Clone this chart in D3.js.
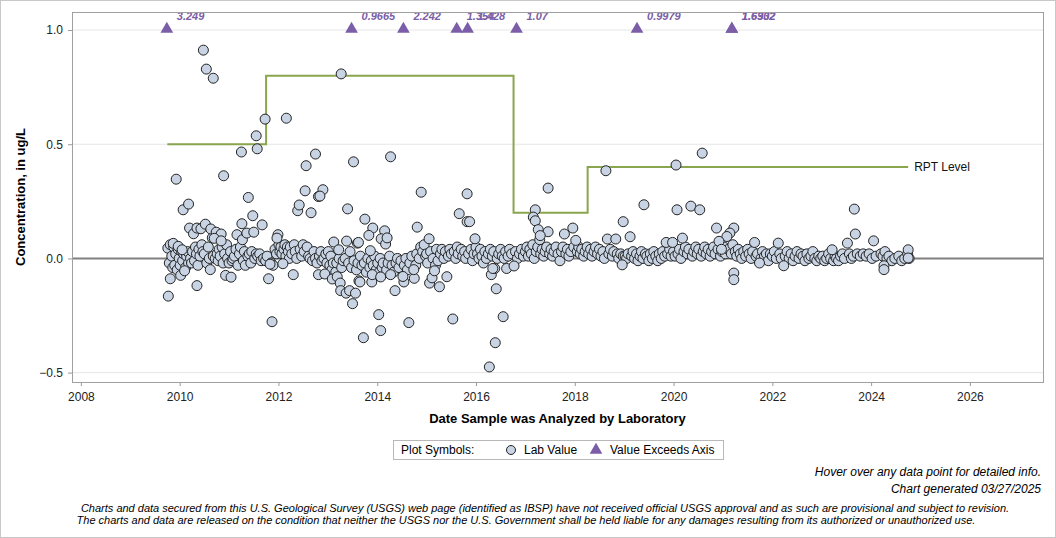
<!DOCTYPE html>
<html>
<head>
<meta charset="utf-8">
<script src="https://cdn.jsdelivr.net/npm/d3@7"></script>
<style>
  body { margin: 0; background: #fff; }
  svg { display: block; font-family: Arial, "Liberation Sans", sans-serif; }
  .axis text { font-size: 12px; fill: #222; }
  .axis line { stroke: #9a9a9a; }
  .axis path { display: none; }
</style>
</head>
<body>
<div id="chart"></div>
<script>
// tick labels
const xTickYears = [2008, 2010, 2012, 2014, 2016, 2018, 2020, 2022, 2024, 2026];
const yTickValues = [-0.5, 0.0, 0.5, 1.0];

// lab values, [decimal year, ug/L] -- the dense band near zero
const band2009_2011 = [
  [2009.76,0.045],[2009.79,-0.02],[2009.81,0.06],[2009.84,0.01],[2009.86,-0.04],[2009.88,0.05],[2009.90,-0.03],[2009.92,0.02],[2009.95,-0.05],[2009.97,0.04],[2009.99,0.0],
  [2010.01,-0.03],[2010.04,0.03],[2010.06,-0.01],[2010.08,0.02],[2010.12,-0.04],[2010.14,0.01],[2010.16,0.03],[2010.18,-0.02],[2010.22,0.0],[2010.24,-0.02],[2010.26,0.03],[2010.30,-0.01],[2010.32,0.05],[2010.34,0.02],[2010.37,-0.03],[2010.39,0.04],[2010.41,0.01],[2010.45,0.06],[2010.47,0.03],[2010.50,0.02],[2010.55,-0.02],[2010.58,0.05],[2010.60,0.0],[2010.66,0.09],[2010.68,0.01],[2010.72,0.0],[2010.76,0.02],[2010.78,-0.01],[2010.80,0.04],[2010.82,0.01],[2010.86,0.05],[2010.88,-0.02],[2010.91,0.02],[2010.95,0.06],[2010.97,0.0],
  [2011.00,-0.02],[2011.03,0.03],[2011.06,-0.01],[2011.08,0.0],[2011.11,0.01],[2011.14,0.04],[2011.18,-0.03],[2011.21,0.02],[2011.23,0.05],[2011.29,-0.01],[2011.31,0.03],[2011.33,-0.03],[2011.38,0.01],[2011.41,0.02],[2011.44,-0.02],[2011.46,0.03],[2011.52,0.0],[2011.55,0.02],[2011.58,0.01],[2011.62,0.02],[2011.65,-0.01],[2011.70,0.0],[2011.74,-0.01],[2011.77,0.01],[2011.85,-0.02],[2011.89,-0.03],[2011.93,0.04],[2011.96,0.02]
];
const band2012_2014 = [
  [2012.01,0.06],[2012.03,0.03],[2012.05,0.05],[2012.07,0.02],[2012.11,0.04],[2012.13,0.06],[2012.15,0.01],[2012.18,0.05],[2012.20,0.03],[2012.22,0.0],[2012.24,0.05],[2012.27,0.02],[2012.32,0.06],[2012.34,0.03],[2012.37,0.0],[2012.44,0.04],[2012.47,0.01],[2012.50,0.06],[2012.52,0.03],[2012.58,0.05],[2012.61,0.01],[2012.64,0.0],[2012.69,-0.01],[2012.72,0.03],[2012.75,0.0],[2012.78,-0.02],[2012.83,0.01],[2012.86,0.03],[2012.88,-0.01],[2012.92,0.0],[2012.96,0.02],[2012.98,-0.02],
  [2013.01,0.03],[2013.04,-0.03],[2013.06,0.01],[2013.08,-0.05],[2013.11,-0.02],[2013.16,-0.06],[2013.18,-0.02],[2013.23,0.0],[2013.28,-0.04],[2013.31,-0.01],[2013.35,0.0],[2013.42,-0.02],[2013.45,0.03],[2013.48,-0.04],[2013.53,-0.01],[2013.58,-0.05],[2013.61,-0.02],[2013.66,0.01],[2013.69,-0.03],[2013.74,-0.02],[2013.78,-0.06],[2013.81,0.0],[2013.85,-0.04],[2013.88,-0.01],[2013.92,-0.03],[2013.95,0.01],[2013.98,-0.05],
  [2014.01,-0.02],[2014.04,-0.06],[2014.06,0.0],[2014.10,-0.04],[2014.12,-0.02],[2014.19,-0.05],[2014.22,-0.02],[2014.25,0.01],[2014.30,-0.03],[2014.33,-0.06],[2014.38,-0.02],[2014.41,0.0],[2014.44,-0.04],[2014.48,-0.01],[2014.55,-0.03],[2014.58,0.0],[2014.61,-0.05],[2014.66,-0.02],[2014.70,0.01],[2014.78,-0.03],[2014.80,0.02],[2014.85,0.0],[2014.88,0.05],[2014.92,0.03],[2014.95,0.06],[2014.98,0.01]
];
const band2015_2017 = [
  [2015.00,0.02],[2015.02,-0.02],[2015.08,0.03],[2015.13,0.0],[2015.18,-0.03],[2015.20,0.04],[2015.23,-0.01],[2015.28,0.02],[2015.31,0.04],[2015.35,0.0],[2015.38,0.03],[2015.44,0.01],[2015.47,0.04],[2015.50,0.02],[2015.56,0.03],[2015.59,0.0],[2015.62,0.05],[2015.64,0.02],[2015.70,0.04],[2015.73,0.01],[2015.77,0.03],[2015.79,0.0],[2015.85,0.02],[2015.90,0.04],[2015.93,-0.01],[2015.96,0.02],
  [2016.00,0.05],[2016.03,0.02],[2016.06,0.0],[2016.09,0.04],[2016.12,0.01],[2016.15,-0.02],[2016.18,0.03],[2016.21,0.0],[2016.25,0.02],[2016.29,0.04],[2016.33,0.01],[2016.36,0.03],[2016.43,0.0],[2016.46,0.02],[2016.50,0.04],[2016.53,0.01],[2016.57,0.0],[2016.60,0.03],[2016.65,0.01],[2016.68,0.04],[2016.72,0.02],[2016.80,0.03],[2016.84,0.0],[2016.88,0.02],[2016.92,0.04],[2016.96,0.01],
  [2017.00,0.03],[2017.03,0.05],[2017.06,0.01],[2017.09,0.04],[2017.12,0.02],[2017.15,0.06],[2017.18,0.0],[2017.22,0.03],[2017.25,0.05],[2017.31,0.02],[2017.34,0.04],[2017.37,0.01],[2017.40,0.03],[2017.43,0.05],[2017.49,0.02],[2017.52,0.04],[2017.55,0.01],[2017.58,0.03],[2017.62,0.05],[2017.66,0.02],[2017.70,-0.01],[2017.73,0.03],[2017.76,0.05],[2017.82,0.02],[2017.85,0.04],[2017.88,0.01],[2017.92,0.03],[2017.98,0.05]
];
const band2018_2020 = [
  [2018.05,0.03],[2018.08,0.05],[2018.11,0.02],[2018.14,0.04],[2018.18,0.01],[2018.21,0.03],[2018.25,0.05],[2018.28,0.02],[2018.32,0.04],[2018.35,0.01],[2018.39,0.03],[2018.42,0.05],[2018.46,0.02],[2018.50,0.04],[2018.53,0.01],[2018.57,0.03],[2018.60,0.0],[2018.69,0.02],[2018.72,0.04],[2018.76,0.01],[2018.79,0.03],[2018.86,0.02],[2018.89,0.0],[2018.93,0.02],[2018.98,0.01],
  [2019.02,0.01],[2019.05,0.0],[2019.08,0.02],[2019.15,0.01],[2019.18,0.03],[2019.21,0.0],[2019.25,0.02],[2019.28,-0.01],[2019.32,0.01],[2019.35,0.03],[2019.38,0.0],[2019.43,0.02],[2019.46,0.01],[2019.50,-0.01],[2019.53,0.02],[2019.57,0.0],[2019.60,0.03],[2019.64,0.01],[2019.68,-0.01],[2019.71,0.02],[2019.75,0.0],[2019.78,0.03],[2019.82,0.01],[2019.88,0.02],[2019.92,0.04],[2019.95,0.01],
  [2020.00,0.03],[2020.03,0.01],[2020.09,0.02],[2020.12,0.04],[2020.15,0.0],[2020.21,0.03],[2020.24,0.05],[2020.28,0.02],[2020.31,0.04],[2020.38,0.01],[2020.41,0.03],[2020.45,0.05],[2020.48,0.02],[2020.51,0.04],[2020.56,0.01],[2020.60,0.03],[2020.63,0.05],[2020.66,0.02],[2020.70,0.04],[2020.74,0.01],[2020.77,0.03],[2020.81,0.05],[2020.84,0.02],[2020.90,0.04],[2020.95,0.01],[2020.98,0.03]
];
const band2021_2024 = [
  [2021.02,0.05],[2021.05,0.02],[2021.11,0.04],[2021.17,0.02],[2021.20,0.06],[2021.25,0.03],[2021.28,0.01],[2021.31,0.04],[2021.35,0.02],[2021.38,0.0],[2021.42,0.03],[2021.46,0.01],[2021.50,0.04],[2021.53,0.02],[2021.57,0.0],[2021.60,0.03],[2021.67,0.01],[2021.70,0.02],[2021.77,0.0],[2021.80,0.03],[2021.84,0.01],[2021.88,0.02],[2021.92,-0.01],[2021.96,0.02],
  [2022.00,0.01],[2022.04,0.03],[2022.08,0.0],[2022.15,0.02],[2022.18,0.0],[2022.26,0.01],[2022.30,0.03],[2022.34,0.0],[2022.38,0.02],[2022.42,-0.01],[2022.46,0.01],[2022.50,0.03],[2022.54,0.0],[2022.58,0.02],[2022.62,0.01],[2022.66,-0.01],[2022.70,0.02],[2022.74,0.0],[2022.78,0.01],[2022.82,0.03],[2022.86,0.0],[2022.90,-0.01],[2022.94,0.01],[2022.98,0.0],
  [2023.02,0.01],[2023.06,-0.01],[2023.10,0.0],[2023.14,0.02],[2023.18,0.0],[2023.24,-0.01],[2023.27,0.01],[2023.30,0.0],[2023.34,-0.01],[2023.38,0.01],[2023.42,0.02],[2023.46,0.0],[2023.56,0.02],[2023.60,0.0],[2023.64,0.01],[2023.72,0.02],[2023.78,0.01],[2023.84,0.02],[2023.90,0.01],[2023.96,0.02],
  [2024.02,0.0],[2024.10,0.01],[2024.20,0.02],[2024.24,0.01],[2024.28,0.03],[2024.32,0.0],[2024.36,0.01],[2024.42,-0.01],[2024.48,0.0],[2024.56,0.01],[2024.62,-0.01],[2024.68,0.0],[2024.74,0.02],[2024.77,0.0]
];

// lab values away from the band
const spikes2009_2011 = [
  [2010.48,0.912],[2010.54,0.829],[2010.68,0.789],[2011.73,0.610],[2011.55,0.537],[2011.57,0.480],[2011.25,0.466],[2009.93,0.347],[2010.89,0.362],[2011.39,0.267],
  [2010.07,0.213],[2010.18,0.238],[2011.48,0.187],[2011.67,0.147],[2011.26,0.152],[2010.20,0.133],[2010.28,0.108],[2010.35,0.133],[2010.43,0.130],[2010.52,0.150],
  [2010.63,0.129],[2010.74,0.115],[2010.84,0.107],[2010.70,0.088],[2010.84,0.077],[2011.16,0.104],[2011.27,0.082],[2011.36,0.111],[2011.50,0.115],[2009.87,0.066],
  [2009.97,0.053],[2010.05,0.038],[2009.81,-0.089],[2009.77,-0.165],[2010.35,-0.119],[2010.62,-0.049],[2010.93,-0.074],[2011.04,-0.082],[2010.02,-0.074],[2010.10,-0.054],
  [2011.80,-0.089],[2011.87,-0.277],[2011.83,-0.025],[2011.99,0.104],[2011.97,0.089]
];
const spikes2012_2014 = [
  [2012.16,0.614],[2013.27,0.808],[2012.75,0.457],[2012.56,0.406],[2013.52,0.423],[2012.54,0.296],[2012.90,0.301],[2012.81,0.271],[2012.09,-0.023],[2012.30,-0.071],
  [2012.39,0.209],[2012.42,0.234],[2012.66,0.200],[2012.84,0.273],[2013.40,0.217],[2013.12,0.072],[2013.38,0.076],[2013.60,0.067],[2012.81,-0.071],[2012.94,-0.068],
  [2013.09,-0.090],[2013.19,-0.080],[2013.25,-0.108],[2013.26,-0.141],[2013.37,-0.152],[2013.44,-0.141],[2013.56,-0.152],[2013.50,-0.198],[2013.63,-0.098],[2013.22,0.038],
  [2014.27,0.445],[2014.89,0.290],[2013.75,0.172],[2013.91,0.133],[2014.15,0.121],[2013.83,0.101],[2014.08,0.086],[2014.17,0.063],[2014.81,0.137],[2013.86,0.034],
  [2013.72,-0.347],[2014.03,-0.246],[2014.07,-0.316],[2014.64,-0.281],[2014.36,-0.141],[2014.54,-0.103],[2014.75,-0.087],[2013.65,-0.103],[2013.89,-0.103],[2013.90,-0.071],
  [2014.07,-0.081],[2014.27,-0.071],[2014.52,-0.079],[2014.74,-0.049],[2013.62,0.070],[2014.20,0.090]
];
const spikes2015_2016 = [
  [2015.82,0.283],[2015.66,0.196],[2015.82,0.161],[2015.87,0.161],[2015.98,0.086],[2015.05,0.086],[2015.53,-0.265],[2016.27,-0.475],[2016.39,-0.369],[2016.55,-0.255],
  [2016.41,-0.133],[2016.31,-0.071],[2016.38,-0.044],[2015.26,-0.124],[2015.41,-0.080],[2015.06,-0.108],[2015.11,-0.085],[2015.16,-0.054],[2016.62,-0.044],[2016.77,-0.033],
  [2016.34,-0.044]
];
const spikes2017_2019 = [
  [2017.46,0.308],[2017.20,0.213],[2017.16,0.181],[2017.20,0.165],[2017.26,0.126],[2017.46,0.117],[2017.29,0.082],[2017.96,0.133],[2017.79,0.107],[2018.63,0.384],
  [2019.40,0.235],[2018.98,0.161],[2019.12,0.095],[2018.02,0.079],[2018.66,0.085],[2018.83,0.085],[2018.96,-0.028],[2017.30,0.100]
];
const spikes2020_2024 = [
  [2020.05,0.409],[2020.58,0.461],[2020.07,0.213],[2020.35,0.229],[2020.53,0.213],[2020.87,0.133],[2021.22,0.133],[2021.14,0.111],[2021.08,0.096],[2020.92,0.075],
  [2020.18,0.089],[2019.85,0.070],[2019.98,0.070],[2021.64,0.070],[2022.12,0.067],[2021.22,-0.064],[2021.22,-0.093],[2023.66,0.216],[2023.68,0.107],[2023.52,0.067],
  [2024.05,0.077],[2023.21,0.038],[2024.26,-0.032],[2024.26,-0.049],[2024.75,0.038],[2024.75,0.002],[2022.23,-0.032],[2021.74,-0.020],[2020.97,0.040]
];

// values above the axis top, plotted at 1.0 with their value as label
const exceedDates = [2009.74, 2013.48, 2014.53, 2015.61, 2015.83, 2016.82, 2019.26, 2021.18, 2021.18];
const exceedLabels = ["3.249", "0.9665", "2.242", "1.354", "1.428", "1.07", "0.9979", "1.6302", "1.6932"];

// reporting level steps
const rptDates = [2009.75, 2011.75, 2016.76, 2018.26, 2024.75];
const rptLevels = [0.5, 0.8, 0.2, 0.4, 0.4];

const labValues = [].concat(band2009_2011, band2012_2014, band2015_2017, band2018_2020, band2021_2024,
  spikes2009_2011, spikes2012_2014, spikes2015_2016, spikes2017_2019, spikes2020_2024);

let width = 1056, height = 538;
let margin = {top: 12, right: 13, bottom: 156, left: 72};
let innerWidth = width - margin.left - margin.right;
let innerHeight = height - margin.top - margin.bottom;

const purple = '#7b5ea7';

let svg = d3.select('#chart').append('svg')
  .attr('width', width)
  .attr('height', height);

// outer border
svg.append('rect')
  .attr('x', 0.5).attr('y', 0.5)
  .attr('width', width - 1).attr('height', height - 1)
  .attr('fill', 'none')
  .attr('stroke', '#c8c8c8');

let xScale = d3.scaleLinear().domain([2007.82, 2027.48]).range([0, innerWidth]);
let yScale = d3.scaleLinear().domain([-0.541, 1.079]).range([innerHeight, 0]);

let g = svg.append('g')
  .attr('transform', 'translate(' + margin.left + ',' + margin.top + ')');

g.append('clipPath').attr('id', 'plot-clip')
  .append('rect').attr('width', innerWidth).attr('height', innerHeight);

// grid lines
g.selectAll('.grid')
  .data(yTickValues.filter(d => d !== 0))
  .join('line')
  .attr('class', 'grid')
  .attr('x1', 0).attr('x2', innerWidth)
  .attr('y1', d => yScale(d)).attr('y2', d => yScale(d))
  .attr('stroke', '#e6e6e6');

// zero reference
g.append('line')
  .attr('x1', 0).attr('x2', innerWidth)
  .attr('y1', yScale(0)).attr('y2', yScale(0))
  .attr('stroke', '#808080')
  .attr('stroke-width', 2);

// axes
g.append('g').attr('class', 'x-axis axis')
  .attr('transform', 'translate(0,' + innerHeight + ')')
  .call(d3.axisBottom(xScale).tickValues(xTickYears).tickFormat(d3.format('d')).tickSize(4).tickPadding(6));

g.append('g').attr('class', 'y-axis axis')
  .call(d3.axisLeft(yScale).tickValues(yTickValues).tickFormat(d3.format('.1f')).tickSize(4).tickPadding(5));

// RPT level step line
let rpt = rptDates.map((d, i) => [d, rptLevels[i]]);
g.append('path')
  .datum(rpt)
  .attr('fill', 'none')
  .attr('stroke', '#89a54e')
  .attr('stroke-width', 2)
  .attr('d', d3.line().curve(d3.curveStepAfter).x(d => xScale(d[0])).y(d => yScale(d[1])));

g.append('text')
  .attr('x', xScale(rptDates[rptDates.length - 1]) + 6)
  .attr('y', yScale(rptLevels[rptLevels.length - 1]))
  .attr('dy', '0.35em')
  .attr('font-size', 12)
  .attr('fill', '#111')
  .text('RPT Level');

// lab values
g.append('g').attr('clip-path', 'url(#plot-clip)')
  .selectAll('.pt')
  .data(labValues)
  .join('circle')
  .attr('class', 'pt')
  .attr('cx', d => xScale(d[0]))
  .attr('cy', d => yScale(d[1]))
  .attr('r', 5)
  .attr('fill', '#c8d4e4')
  .attr('stroke', '#222')
  .attr('stroke-width', 1);

// exceeds-axis triangles
let tri = d3.symbol().type(d3.symbolTriangle).size(70);
g.selectAll('.exceed')
  .data(exceedDates)
  .join('path')
  .attr('class', 'exceed')
  .attr('d', tri)
  .attr('transform', d => 'translate(' + xScale(d) + ',' + (yScale(1.0) - 1) + ')')
  .attr('fill', purple);

g.selectAll('.exceed-label')
  .data(exceedDates)
  .join('text')
  .attr('class', 'exceed-label')
  .attr('x', d => xScale(d) + 10)
  .attr('y', yScale(1.0) - 10)
  .attr('font-size', 11)
  .attr('font-weight', 'bold')
  .attr('font-style', 'italic')
  .attr('fill', purple)
  .text((d, i) => exceedLabels[i]);

// plot frame
g.append('rect')
  .attr('x', 0.5).attr('y', 0.5)
  .attr('width', innerWidth).attr('height', innerHeight)
  .attr('fill', 'none')
  .attr('stroke', '#a0a0a0');

// axis titles
svg.append('text')
  .attr('transform', 'translate(25,' + (margin.top + innerHeight / 2) + ') rotate(-90)')
  .attr('text-anchor', 'middle')
  .attr('font-size', 13)
  .attr('font-weight', 'bold')
  .text('Concentration, in ug/L');

svg.append('text')
  .attr('x', margin.left + innerWidth / 2)
  .attr('y', 423)
  .attr('text-anchor', 'middle')
  .attr('font-size', 13)
  .attr('font-weight', 'bold')
  .text('Date Sample was Analyzed by Laboratory');

// legend
let legend = svg.append('g').attr('transform', 'translate(393,440)');
legend.append('rect')
  .attr('x', 0.5).attr('y', 0.5)
  .attr('width', 330).attr('height', 19)
  .attr('fill', '#fff')
  .attr('stroke', '#b8b8b8');
legend.append('text').attr('x', 8).attr('y', 14).attr('font-size', 12).text('Plot Symbols:');
legend.append('circle').attr('cx', 118).attr('cy', 10).attr('r', 4.5)
  .attr('fill', '#c8d4e4').attr('stroke', '#222');
legend.append('text').attr('x', 131).attr('y', 14).attr('font-size', 12).text('Lab Value');
legend.append('path').attr('d', tri).attr('transform', 'translate(203,10)').attr('fill', purple);
legend.append('text').attr('x', 217).attr('y', 14).attr('font-size', 12).text('Value Exceeds Axis');

// footer notes
svg.append('text')
  .attr('x', 1041).attr('y', 476)
  .attr('text-anchor', 'end')
  .attr('font-size', 12).attr('font-style', 'italic')
  .text('Hover over any data point for detailed info.');
svg.append('text')
  .attr('x', 1041).attr('y', 493)
  .attr('text-anchor', 'end')
  .attr('font-size', 12).attr('font-style', 'italic')
  .text('Chart generated 03/27/2025');
svg.append('text')
  .attr('x', 545).attr('y', 512)
  .attr('text-anchor', 'middle')
  .attr('font-size', 11).attr('font-style', 'italic')
  .text('Charts and data secured from this U.S. Geological Survey (USGS) web page (identified as IBSP) have not received official USGS approval and as such are provisional and subject to revision.');
svg.append('text')
  .attr('x', 526).attr('y', 524)
  .attr('text-anchor', 'middle')
  .attr('font-size', 11).attr('font-style', 'italic')
  .text('The charts and data are released on the condition that neither the USGS nor the U.S. Government shall be held liable for any damages resulting from its authorized or unauthorized use.');
</script>
</body>
</html>
